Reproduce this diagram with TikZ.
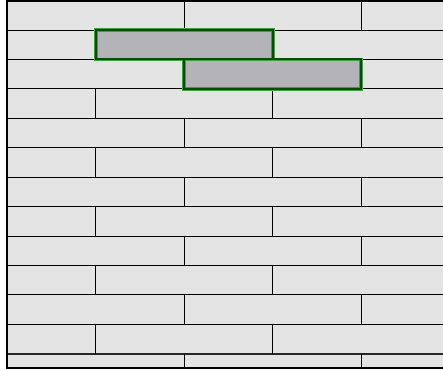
\documentclass[tikz,border=0pt]{standalone}
\definecolor{brickfill}{RGB}{228,228,228}
\definecolor{selfill}{RGB}{180,180,184}
\definecolor{seldark}{RGB}{10,75,10}
\definecolor{sellight}{RGB}{60,160,60}
\tikzset{
  joint/.style={line width=0.9pt, black},
  frameline/.style={line width=2pt, black},
  selhalo/.style={line width=3.8pt, sellight, fill=selfill},
  selcore/.style={line width=2pt, seldark},
}
\begin{document}
\begin{tikzpicture}[x=1pt,y=-1pt]
\useasboundingbox (0,0) rectangle (443,369);
\clip (0,0) rectangle (443,369);
\fill[brickfill] (7,1) rectangle (460,368);
% horizontal courses
\foreach \r in {1,...,11} {
  \pgfmathsetmacro\yy{0.6+29.43*\r}
  \draw[joint] (7,\yy) -- (460,\yy);
}
\draw[line width=1.8pt, black!85] (7,353.7) -- (460,353.7);
% vertical joints
\foreach \r in {0,...,12} {
  \pgfmathsetmacro\ya{0.6+29.43*\r}
  \pgfmathsetmacro\yb{min(0.6+29.43*(\r+1),368)}
  \pgfmathsetmacro\xa{mod(\r,2)==1 ? 95.8 : 184.3}
  \pgfmathsetmacro\xb{\xa+177}
  \draw[joint] (\xa,\ya) -- (\xa,\yb) (\xb,\ya) -- (\xb,\yb);
}
% highlighted bricks
\foreach \xa/\r in {95.8/1, 184.3/2} {
  \pgfmathsetmacro\ya{0.6+29.43*\r}
  \pgfmathsetmacro\yb{0.6+29.43*(\r+1)}
  \pgfmathsetmacro\xb{\xa+177}
  \draw[selhalo] (\xa,\ya) rectangle (\xb,\yb);
}
\foreach \xa/\r in {95.8/1, 184.3/2} {
  \pgfmathsetmacro\ya{0.6+29.43*\r}
  \pgfmathsetmacro\yb{0.6+29.43*(\r+1)}
  \pgfmathsetmacro\xb{\xa+177}
  \draw[selcore] (\xa,\ya) rectangle (\xb,\yb);
}
% frame
\draw[frameline] (7,1) rectangle (460,368);
\end{tikzpicture}
\end{document}
